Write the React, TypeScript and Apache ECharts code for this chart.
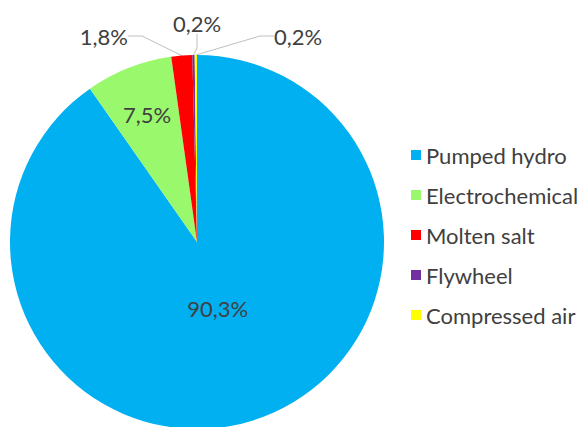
import React, { useEffect, useRef } from "react";
import * as echarts from "echarts";

const categories = ["Pumped hydro", "Electrochemical", "Molten salt", "Flywheel", "Compressed air"];
const shares = [90.3, 7.5, 1.8, 0.2, 0.2];
const colors = ["#00B0F0", "#99F86B", "#FF0000", "#7030A0", "#FFFF00"];
const labelTexts = ["90,3%", "7,5%", "1,8%", "0,2%", "0,2%"];

const W = 579;
const H = 427;
const CX = 197;
const CY = 242;
const R = 187;
const FONT = "Lato, 'Open Sans', sans-serif";
const TEXT_COLOR = "#404040";
const FS = 22;

// inside-label radial fractions (per slice) and outside label anchors
const insideFrac: Record<number, number> = { 0: 0.37, 1: 0.73 };
const outsideLabels: Record<number, { x: number; y: number; align: string }> = {
  2: { x: CX - 69, y: CY - 206, align: "right" },
  3: { x: CX, y: CY - 219, align: "center" },
  4: { x: CX + 77, y: CY - 206, align: "left" },
};

export default function App() {
  const ref = useRef<HTMLDivElement>(null);
  useEffect(() => {
    if (!ref.current) return;
    const chart = echarts.init(ref.current, undefined, { renderer: "svg" });
    const total = shares.reduce((a, b) => a + b, 0);
    const mids: number[] = [];
    let cum = 0;
    shares.forEach((v) => {
      mids.push(((cum + v / 2) / total) * Math.PI * 2);
      cum += v;
    });
    chart.setOption({
      animation: false,
      backgroundColor: "#ffffff",
      legend: {
        orient: "vertical",
        left: 406,
        top: 139,
        icon: "rect",
        itemWidth: 10,
        itemHeight: 10,
        itemGap: 18,
        textStyle: { fontFamily: FONT, fontSize: FS, color: TEXT_COLOR, padding: [0, 0, 0, 0] },
        data: categories,
      },
      series: [
        {
          type: "pie",
          center: [CX, CY],
          radius: R,
          startAngle: 90,
          clockwise: true,
          avoidLabelOverlap: false,
          itemStyle: { borderWidth: 0 },
          label: {
            fontFamily: FONT,
            fontSize: FS,
            color: TEXT_COLOR,
            formatter: (p: any) => labelTexts[p.dataIndex],
          },
          labelLine: { lineStyle: { color: "#BFBFBF", width: 1 }, length: 5, length2: 14, smooth: false },
          labelLayout: (p: any) => {
            const i = p.dataIndex;
            if (insideFrac[i] != null) {
              const a = mids[i];
              const f = insideFrac[i] * R;
              return {
                x: CX + Math.sin(a) * f,
                y: CY - Math.cos(a) * f,
                align: "center",
                verticalAlign: "middle",
              };
            }
            const o = outsideLabels[i];
            return { x: o.x, y: o.y, align: o.align, verticalAlign: "middle" };
          },
          data: categories.map((name, i) => ({
            name,
            value: shares[i],
            itemStyle: { color: colors[i] },
            label: { position: insideFrac[i] != null ? "inside" : "outside" },
            labelLine: { show: insideFrac[i] == null },
          })),
        },
      ],
    });
    return () => chart.dispose();
  }, []);
  return (
    <div
      ref={ref}
      style={{ position: "fixed", left: 0, top: 0, width: W, height: H, background: "#fff" }}
    />
  );
}
